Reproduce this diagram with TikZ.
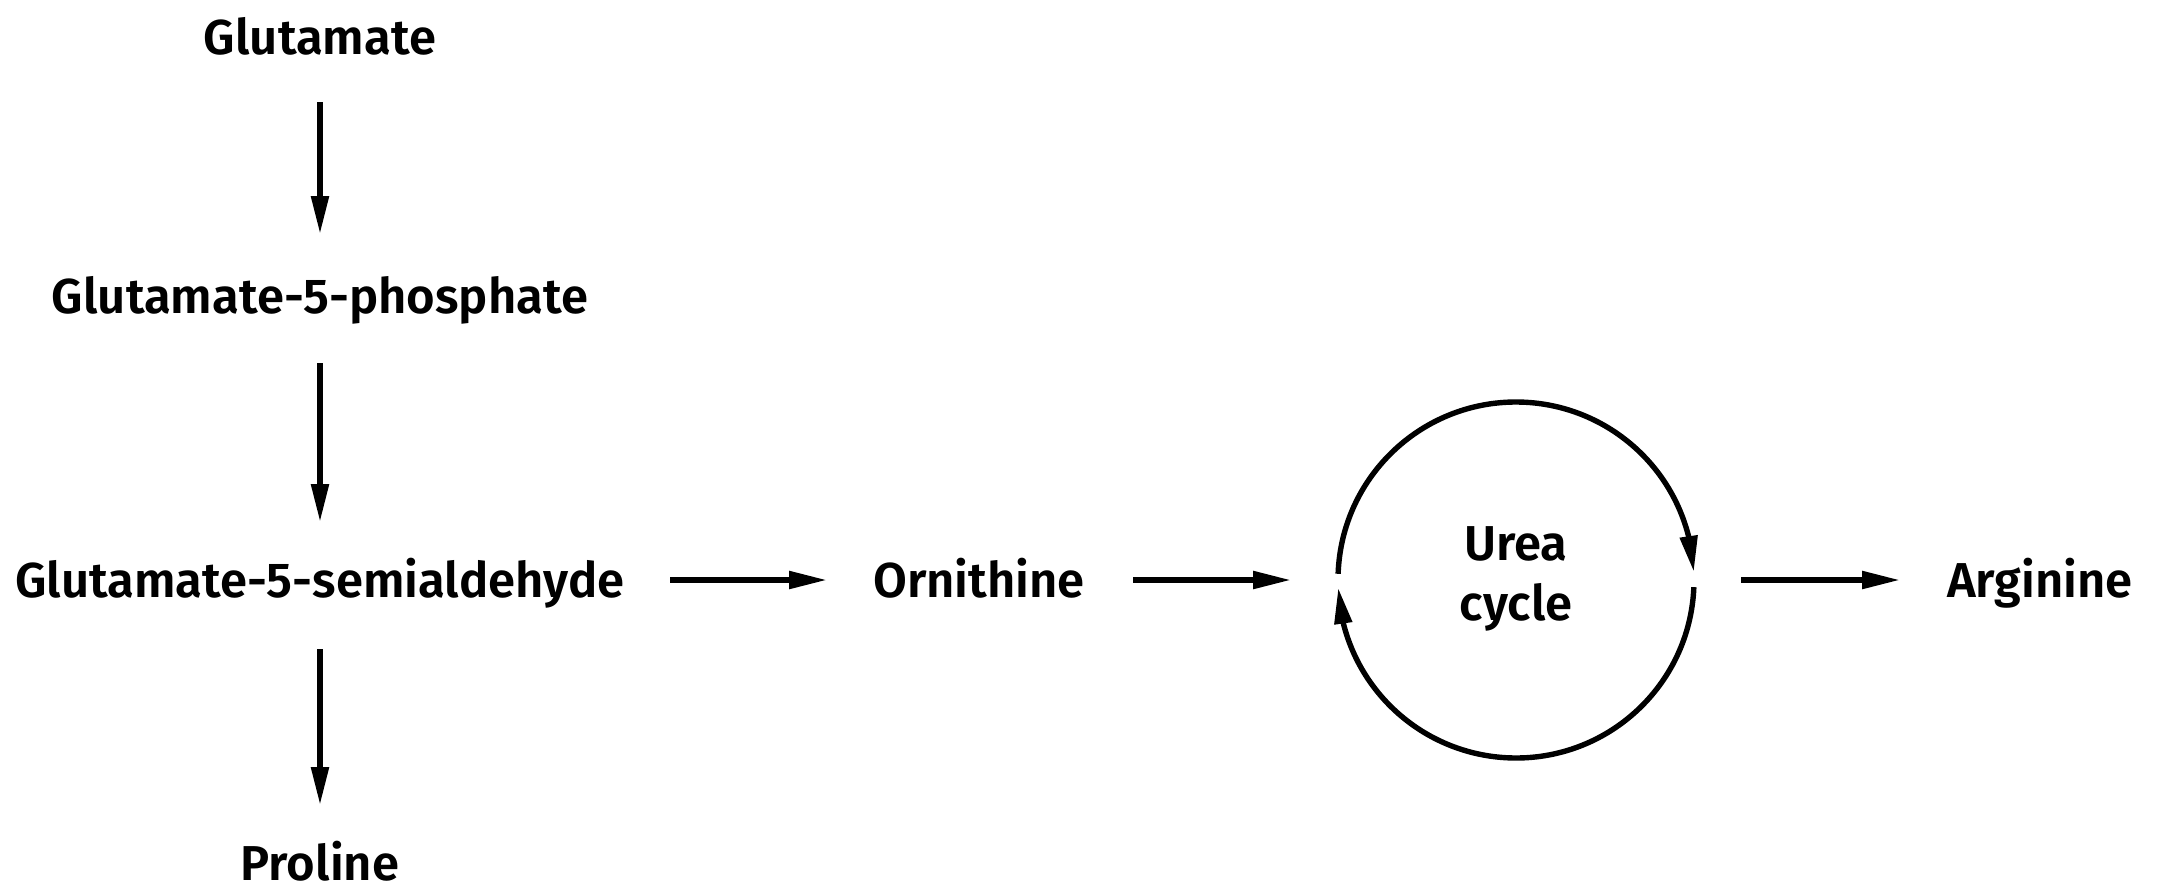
\documentclass[tikz,border=0pt]{standalone}
\usepackage{fontspec}
\setmainfont{Fira Sans}[UprightFont={* SemiBold}]
\usetikzlibrary{arrows.meta}
\begin{document}
\begin{tikzpicture}[x=0.5pt,y=0.5pt,
  lbl/.style={inner sep=0pt, text height=17pt, text depth=0pt, font=\fontsize{24.5}{30}\selectfont},
  conn/.style={line width=2.7pt, -{Triangle[length=19pt,width=8.5pt]}},
  ring/.style={line width=2.7pt},
  cyc/.style={line width=2.7pt, -{Triangle[length=18pt,width=8.5pt]}}]
\useasboundingbox (0,0) rectangle (2162,-890);
\node[lbl] (glu) at (320,-37) {Glutamate};
\node[lbl] (g5p) at (320,-296) {Glutamate-5-phosphate};
\node[lbl] (g5s) at (320,-580) {Glutamate-5-semialdehyde};
\node[lbl] (pro) at (320,-863) {Proline};
\node[lbl] (orn) at (979,-580) {Ornithine};
\node[lbl] (arg) at (2040,-580) {Arginine};
\coordinate (uc) at (1516,-580);
\node[lbl, align=center] (urea) at (1516,-603) {Urea\\cycle};
\draw[conn, shorten <=32.5pt, shorten >=31pt] (glu.center) -- (g5p.center);
\draw[conn, shorten <=33.5pt, shorten >=29pt] (g5p.center) -- (g5s.center);
\draw[conn, shorten <=34.5pt, shorten >=29pt] (g5s.center) -- (pro.center);
\draw[conn, shorten <=175pt, shorten >=76pt] (g5s.center) -- (orn.center);
\draw[conn, shorten <=77pt, shorten >=112.5pt] (orn.center) -- (uc);
\draw[conn, shorten <=112.5pt, shorten >=70pt] (uc) -- (arg.center);
% upper arc, arrow pointing down on the right
\coordinate (a1s) at ([shift={(178:178)}]uc);
\coordinate (a1b) at ([shift={(14:178)}]uc);
\coordinate (a1t) at ([shift={(2.6:178)}]uc);
\draw[ring] (a1s) arc[start angle=178, end angle=12, radius=178];
\draw[cyc] (a1b) -- (a1t);
% lower arc, arrow pointing up on the left
\coordinate (a2s) at ([shift={(-2.3:178)}]uc);
\coordinate (a2b) at ([shift={(-166:178)}]uc);
\coordinate (a2t) at ([shift={(-177.5:178)}]uc);
\draw[ring] (a2s) arc[start angle=-2.3, end angle=-168, radius=178];
\draw[cyc] (a2b) -- (a2t);
\end{tikzpicture}
\end{document}
